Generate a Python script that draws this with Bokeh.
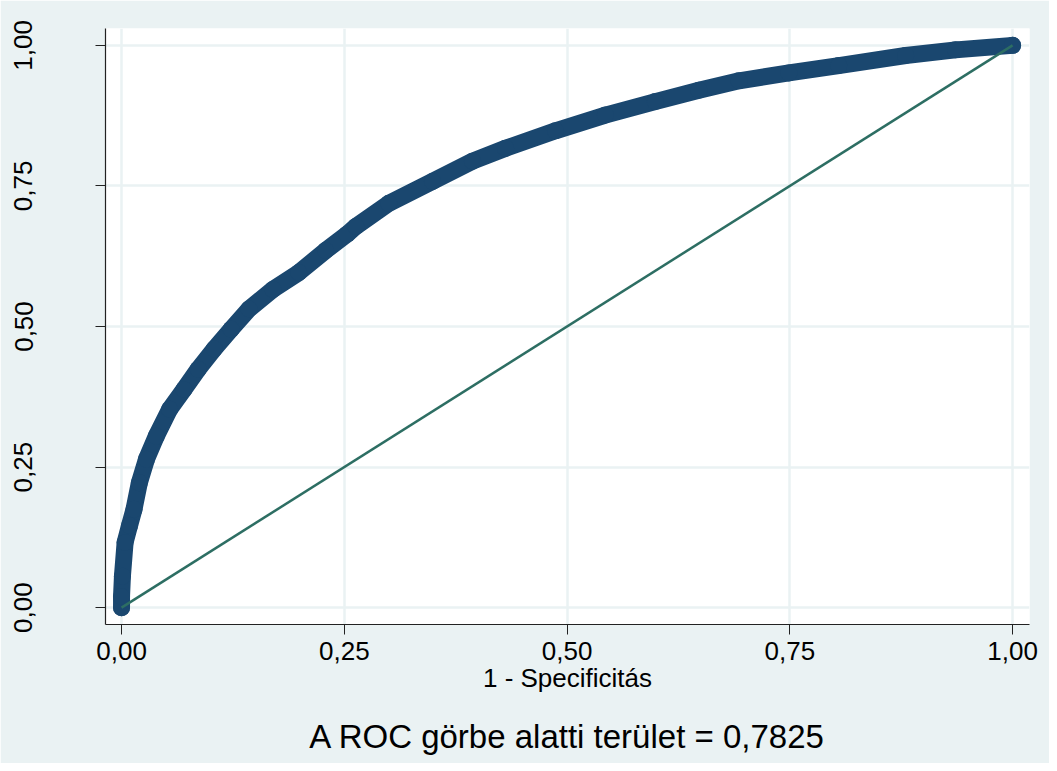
from bokeh.plotting import figure
from bokeh.models import FixedTicker, LinearAxis, Range1d
from bokeh.embed import file_html
from bokeh.resources import INLINE

# ROC curve
fpr = [0.0, 0.000, 0.001, 0.004, 0.009, 0.014, 0.020, 0.028, 0.039, 0.054, 0.070,
       0.086, 0.104, 0.123, 0.143, 0.170, 0.199, 0.229, 0.253, 0.263, 0.300,
       0.349, 0.394, 0.431, 0.487, 0.543, 0.599, 0.648, 0.693, 0.749, 0.805,
       0.880, 0.936, 1.000]
tpr = [0.0, 0.020, 0.056, 0.116, 0.146, 0.175, 0.222, 0.264, 0.305, 0.353, 0.388,
       0.424, 0.460, 0.495, 0.531, 0.566, 0.596, 0.635, 0.664, 0.678, 0.719,
       0.758, 0.794, 0.817, 0.848, 0.876, 0.900, 0.920, 0.937, 0.951, 0.964,
       0.982, 0.992, 1.000]
ref_x = [0.0, 1.0]
ref_y = [0.0, 1.0]
tick_vals = [0.0, 0.25, 0.5, 0.75, 1.0]
tick_labels = ["0,00", "0,25", "0,50", "0,75", "1,00"]
x_title = "1 - Specificitás"
note = "A ROC görbe alatti terület = 0,7825"

BG = "#EAF2F3"
FONT = "Liberation Sans"
X0, X1 = -0.018, 1.019
Y0, Y1 = -0.030, 1.030

p = figure(width=1049, height=763, output_backend="svg", toolbar_location=None,
           x_range=Range1d(X0, X1), y_range=Range1d(Y0, Y1),
           min_border_left=105, min_border_right=20, min_border_top=28,
           min_border_bottom=139)
p.background_fill_color = "white"
p.border_fill_color = BG
p.outline_line_color = None

p.line(fpr, tpr, line_width=17, line_color="#1A476F", line_join="round", line_cap="round")
p.scatter(fpr, tpr, size=17, fill_color="#1A476F", line_color=None)
p.line(ref_x, ref_y, line_width=2.5, line_color="#2D6E63")

overrides = {v: l for v, l in zip(tick_vals, tick_labels)}
for ax in (p.xaxis[0], p.yaxis[0]):
    ax.ticker = FixedTicker(ticks=tick_vals)
    ax.major_label_overrides = overrides
    ax.minor_tick_line_color = None
    ax.major_tick_in = 0
    ax.major_tick_out = 10
    ax.major_tick_line_color = "#222222"
    ax.axis_line_color = "#222222"
    ax.axis_line_width = 1.2
    ax.major_label_text_font = FONT
    ax.major_label_text_font_size = "26px"
    ax.major_label_text_color = "black"

p.xaxis[0].major_label_standoff = 7
p.xaxis[0].axis_label = x_title
p.xaxis[0].axis_label_text_font = FONT
p.xaxis[0].axis_label_text_font_size = "26px"
p.xaxis[0].axis_label_text_font_style = "normal"
p.xaxis[0].axis_label_text_color = "black"
p.xaxis[0].axis_label_standoff = 0

p.yaxis[0].major_label_orientation = "vertical"
p.yaxis[0].major_label_standoff = 63

for g in (p.xgrid[0], p.ygrid[0]):
    g.ticker = FixedTicker(ticks=tick_vals)
    g.grid_line_color = BG
    g.grid_line_width = 2.5

# note under the plot: label of a bare extra axis (no ticks, no line)
note_axis = LinearAxis(ticker=FixedTicker(ticks=[]), axis_line_color=None,
                       major_tick_line_color=None, minor_tick_line_color=None,
                       major_tick_out=0, major_tick_in=0, major_label_standoff=0,
                       axis_label=note, axis_label_standoff=22,
                       axis_label_text_font=FONT, axis_label_text_font_size="33px",
                       axis_label_text_font_style="normal", axis_label_text_color="black")
p.add_layout(note_axis, "below")

open("out.html", "w").write(file_html(p, INLINE))
